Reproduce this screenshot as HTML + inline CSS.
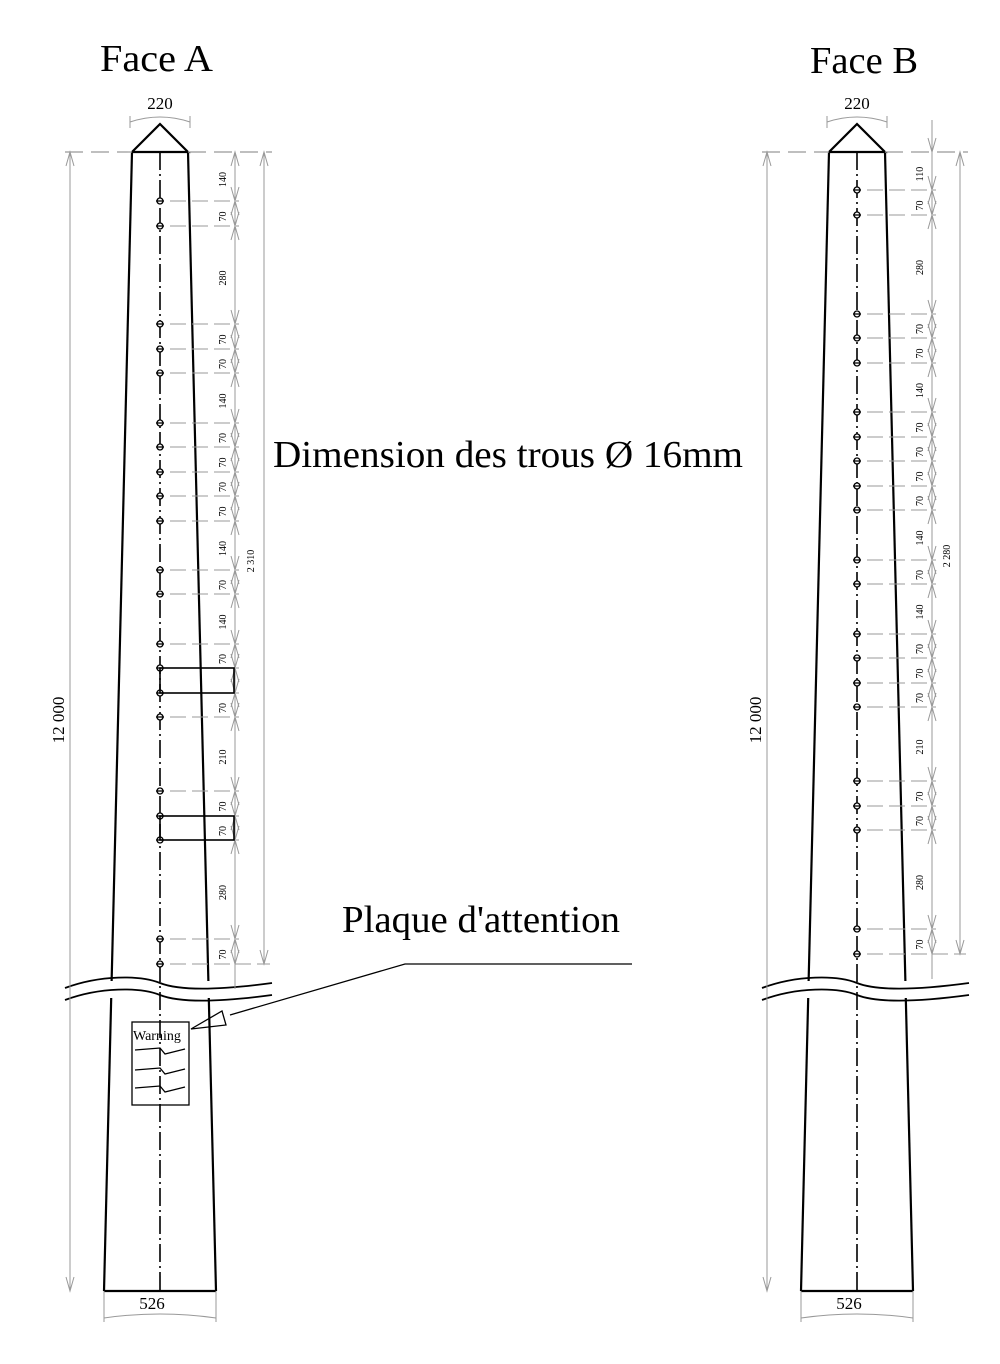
<!DOCTYPE html>
<html><head><meta charset="utf-8"><style>
html,body{margin:0;padding:0;background:#fff;}
svg{display:block;}
text{font-family:"Liberation Serif",serif;}
</style></head><body>
<svg id="s" width="1000" height="1364" viewBox="0 0 1000 1364" xmlns="http://www.w3.org/2000/svg">
<text x="100" y="71" font-size="38" textLength="113" lengthAdjust="spacingAndGlyphs">Face A</text>
<text x="810" y="73" font-size="38" textLength="108" lengthAdjust="spacingAndGlyphs">Face B</text>
<text x="273" y="467" font-size="38" textLength="470" lengthAdjust="spacingAndGlyphs">Dimension des trous Ø 16mm</text>
<text x="342" y="932" font-size="38" textLength="278" lengthAdjust="spacingAndGlyphs">Plaque d'attention</text>
<polyline points="632,964 405,964 230,1015" fill="none" stroke="#000" stroke-width="1.3"/>
<polygon points="191,1029 222,1011 226,1025" fill="#fff" stroke="#000" stroke-width="1.3"/>
<rect x="132" y="1022" width="57" height="83" fill="none" stroke="#000" stroke-width="1.3"/>
<text x="133" y="1040" font-size="14">Warning</text>
<path d="M135,1050 L160,1048 L165,1054 L185,1049 M135,1070 L160,1068 L165,1074 L185,1069 M135,1088 L160,1086 L165,1092 L185,1087" fill="none" stroke="#000" stroke-width="1.3"/>
</svg>
<script>
var s=document.getElementById('s');var NS='http://www.w3.org/2000/svg';
function el(t,a,txt){var e=document.createElementNS(NS,t);for(var k in a)e.setAttribute(k,a[k]);if(txt!==undefined)e.textContent=txt;s.appendChild(e);return e;}
function line(x1,y1,x2,y2,c,w,d){var a={x1:x1,y1:y1,x2:x2,y2:y2,stroke:c||'#000','stroke-width':w||1};if(d)a['stroke-dasharray']=d;el('line',a);}
function arrowV(x,y,dir){
 el('polyline',{points:(x-4)+','+(y-dir*14)+' '+x+','+y+' '+(x+4)+','+(y-dir*14),fill:'none',stroke:'#999','stroke-width':1});}
function vtext(x,y,t,sz){el('text',{x:x,y:y,'font-size':sz,'text-anchor':'middle',transform:'rotate(-90 '+x+' '+y+')'},t);}
function pole(cx,holes,labels,chainX,longX,longLabel,dimX,extraTop){
 var yt=152,yb=1291,ht=28,hb=56;
 function hw(y){return ht+(hb-ht)*(y-yt)/(yb-yt);}
 var yb1=981,yb2=998;
 [-1,1].forEach(function(sg){
  line(cx+sg*ht,yt,cx+sg*hw(yb1),yb1,'#000',2.2);
  line(cx+sg*hw(yb2),yb2,cx+sg*hb,yb,'#000',2.2);});
 line(cx-hb,yb,cx+hb,yb,'#000',2.2);
 el('polyline',{points:(cx-ht)+','+yt+' '+cx+',124 '+(cx+ht)+','+yt+' '+(cx-ht)+','+yt,fill:'none',stroke:'#000','stroke-width':2.2});
 line(cx,yt,cx,yb,'#000',1.6,'18,4,2,4');
 el('path',{d:'M'+(cx-95)+',988 C'+(cx-60)+',975 '+(cx-20)+',975 '+cx+',983 S'+(cx+60)+',990 '+(cx+112)+',983',fill:'none',stroke:'#000','stroke-width':1.8});
 el('path',{d:'M'+(cx-95)+',1000 C'+(cx-60)+',987 '+(cx-20)+',987 '+cx+',995 S'+(cx+60)+',1002 '+(cx+112)+',995',fill:'none',stroke:'#000','stroke-width':1.8});
 line(cx-95,yt,cx-ht,yt,'#999',1.2,'18,8');
 line(cx+ht,yt,longX+8,yt,'#999',1.2,'18,8');
 holes.forEach(function(y){
  el('circle',{cx:cx,cy:y,r:3,fill:'#fff',stroke:'#000','stroke-width':1.3});
  line(cx-4,y,cx+4,y,'#000',1.3);
  line(cx+10,y,chainX+4,y,'#999',1,'16,6');});
 var top=extraTop?120:yt;
 line(chainX,top,chainX,holes[holes.length-1]+25,'#999',1);
 var pts=[yt].concat(holes);
 for(var i=0;i<pts.length-1;i++){
  var a=pts[i],b=pts[i+1];
  if(extraTop&&i==0){arrowV(chainX,a,1);}
  else{arrowV(chainX,a,-1);}
  arrowV(chainX,b,1);
  if(labels[i])vtext(chainX-9,(a+b)/2+3,labels[i],10);
 }
 var last=holes[holes.length-1];
 line(longX,yt,longX,last,'#999',1);arrowV(longX,yt,-1);arrowV(longX,last,1);
 line(chainX,last,longX+6,last,'#999',1,'16,6');
 vtext(longX-10,(yt+last)/2+3,longLabel,10);
 line(dimX,yt,dimX,yb,'#999',1);arrowV(dimX,yt,-1);arrowV(dimX,yb,1);
 vtext(dimX-6,720,'12 000',17);
 el('path',{d:'M'+(cx-30)+',122 Q'+cx+',112 '+(cx+30)+',122',fill:'none',stroke:'#999','stroke-width':1});
 line(cx-30,116,cx-30,128,'#999',1);line(cx+30,116,cx+30,128,'#999',1);
 el('text',{x:cx,y:109,'font-size':17,'text-anchor':'middle'},'220');
 line(cx-hb,yb,cx-hb,1322,'#999',1);line(cx+hb,yb,cx+hb,1322,'#999',1);
 el('path',{d:'M'+(cx-hb)+',1318 Q'+cx+',1310 '+(cx+hb)+',1318',fill:'none',stroke:'#999','stroke-width':1});
 el('text',{x:cx-8,y:1309,'font-size':17,'text-anchor':'middle'},'526');
}
var hA=[201,226,324,349,373,423,447,472,496,521,570,594,644,668,693,717,791,816,840,939,964];
var lA=['140','70','280','70','70','140','70','70','70','70','140','70','140','70','','70','210','70','70','280','70'];
pole(160,hA,lA,235,264,'2 310',70,false);
var hB=[190,215,314,338,363,412,437,461,486,510,560,584,634,658,683,707,781,806,830,929,954];
var lB=['110','70','280','70','70','140','70','70','70','70','140','70','140','70','70','70','210','70','70','280','70'];
pole(857,hB,lB,932,960,'2 280',767,true);
[[668,693],[816,840]].forEach(function(r){el('rect',{x:160,y:r[0],width:74,height:r[1]-r[0],fill:'none',stroke:'#000','stroke-width':1.6});});
</script>
</body></html>
